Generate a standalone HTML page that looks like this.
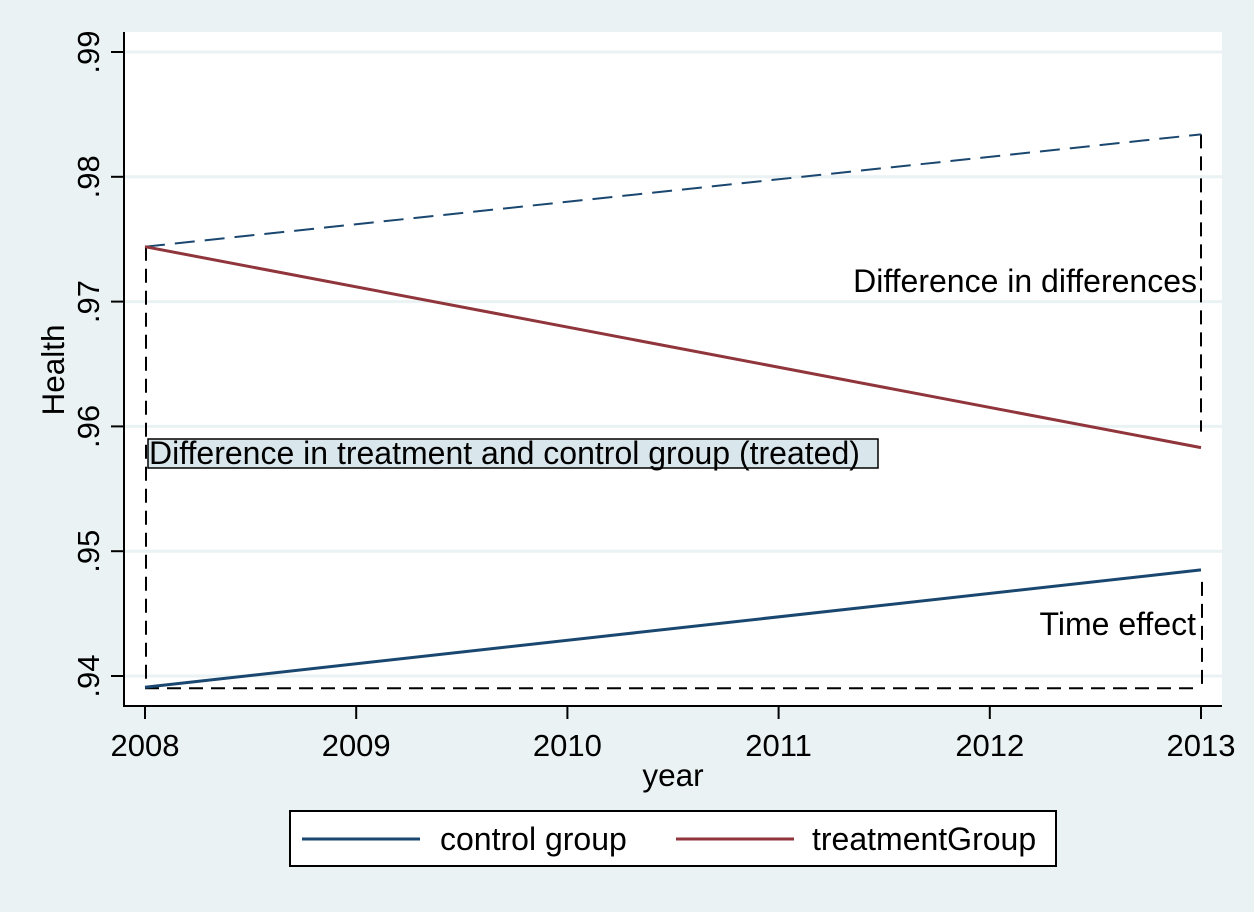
<!DOCTYPE html>
<html><head><meta charset="utf-8"><style>
body{margin:0;background:#eaf2f3;}
svg{display:block;font-family:"Liberation Sans",Arial,sans-serif;}
</style></head><body>
<svg id="chart" width="1254" height="912">
<rect x="0" y="0" width="1254" height="912" fill="#eaf2f3"/>
<rect x="124" y="32" width="1098" height="674" fill="#fff"/>
<g id="grid"></g>
<g id="marks"></g>
<line x1="124" y1="32" x2="124" y2="707" stroke="#000" stroke-width="2"/>
<line x1="123" y1="706" x2="1222" y2="706" stroke="#000" stroke-width="2"/>
<g id="axes"></g>
<text x="64" y="370" font-size="31.5" text-anchor="middle" transform="rotate(-90 64 370)">Health</text>
<text x="673" y="786" font-size="31.5" text-anchor="middle">year</text>
<g>
<rect x="290" y="811" width="766" height="55" fill="#fff" stroke="#000" stroke-width="2"/>
<line x1="302" y1="839" x2="420" y2="839" stroke="#1a476f" stroke-width="3"/>
<text x="440" y="850" font-size="32">control group</text>
<line x1="676" y1="839" x2="794" y2="839" stroke="#90353b" stroke-width="3"/>
<text x="812" y="850" font-size="32">treatmentGroup</text>
</g>
</svg>
<script>
const years=[2008,2013];
const control=[0.9391,0.9485];
const treatment=[0.9744,0.9583];
const counterfactual=[0.9744,0.9834];
const yTicks=[0.94,0.95,0.96,0.97,0.98,0.99];
const yTickLabels=[".94",".95",".96",".97",".98",".99"];
const xTicks=[2008,2009,2010,2011,2012,2013];
const NS="http://www.w3.org/2000/svg";
function X(v){return 145+(v-2008)*211.2;}
function Y(v){return 676-(v-0.94)*12480;}
function mk(p,t,a){const e=document.createElementNS(NS,t);for(const k in a)e.setAttribute(k,a[k]);document.getElementById(p).appendChild(e);return e;}
yTicks.forEach((v,i)=>{
 let g=mk('grid','line',{x1:125,x2:1222,y1:Y(v),y2:Y(v),stroke:'#eaf2f3','stroke-width':3});
 
 
 let t=mk('axes','line',{x1:111,x2:124,y1:Y(v),y2:Y(v),stroke:'#000','stroke-width':2});
 
 
 let l=mk('axes','text',{x:99,y:Y(v),'font-size':31,'text-anchor':'middle',transform:`rotate(-90 99 ${Y(v)})`});
 l.textContent=yTickLabels[i];
 
 
});
xTicks.forEach(v=>{
 let t=mk('axes','line',{x1:X(v),x2:X(v),y1:706,y2:719,stroke:'#000','stroke-width':2});
 
 
 let l=mk('axes','text',{x:X(v),y:756,'font-size':31,'text-anchor':'middle'});
 l.textContent=v;
 
 
});
const dash={stroke:'#000','stroke-width':2,'stroke-dasharray':'14 8',fill:'none'};
let d1=mk('marks','line',Object.assign({x1:X(2008)+1,x2:X(2008)+1,y1:Y(treatment[0]),y2:Y(control[0])},dash));


let d2=mk('marks','line',Object.assign({x1:X(2008),x2:X(2013),y1:Y(control[0])+1,y2:Y(control[0])+1},dash));


let d3=mk('marks','line',Object.assign({x1:X(2013),x2:X(2013),y1:Y(counterfactual[1]),y2:Y(treatment[1])-16},dash));


let d4=mk('marks','line',Object.assign({x1:X(2013)+1,x2:X(2013)+1,y1:Y(control[1])+12,y2:Y(control[0])+1},dash));


let cf=mk('marks','line',{x1:X(years[0]),x2:X(years[1]),y1:Y(counterfactual[0]),y2:Y(counterfactual[1]),stroke:'#1a476f','stroke-width':2,'stroke-dasharray':'20 10'});


let c=mk('marks','line',{x1:X(years[0]),x2:X(years[1]),y1:Y(control[0]),y2:Y(control[1]),stroke:'#1a476f','stroke-width':3});


let tr=mk('marks','line',{x1:X(years[0]),x2:X(years[1]),y1:Y(treatment[0]),y2:Y(treatment[1]),stroke:'#90353b','stroke-width':3});


let bx=mk('marks','rect',{x:148,y:439,width:730,height:29,fill:'#d9e6eb',stroke:'#000','stroke-width':1.5});


let a1=mk('marks','text',{x:149,y:464,'font-size':32});
a1.textContent='Difference in treatment and control group (treated)';


let a2=mk('marks','text',{x:1197,y:292,'font-size':32,'text-anchor':'end'});
a2.textContent='Difference in differences';


let a3=mk('marks','text',{x:1196,y:635,'font-size':32,'text-anchor':'end'});
a3.textContent='Time effect';


</script>
</body></html>
